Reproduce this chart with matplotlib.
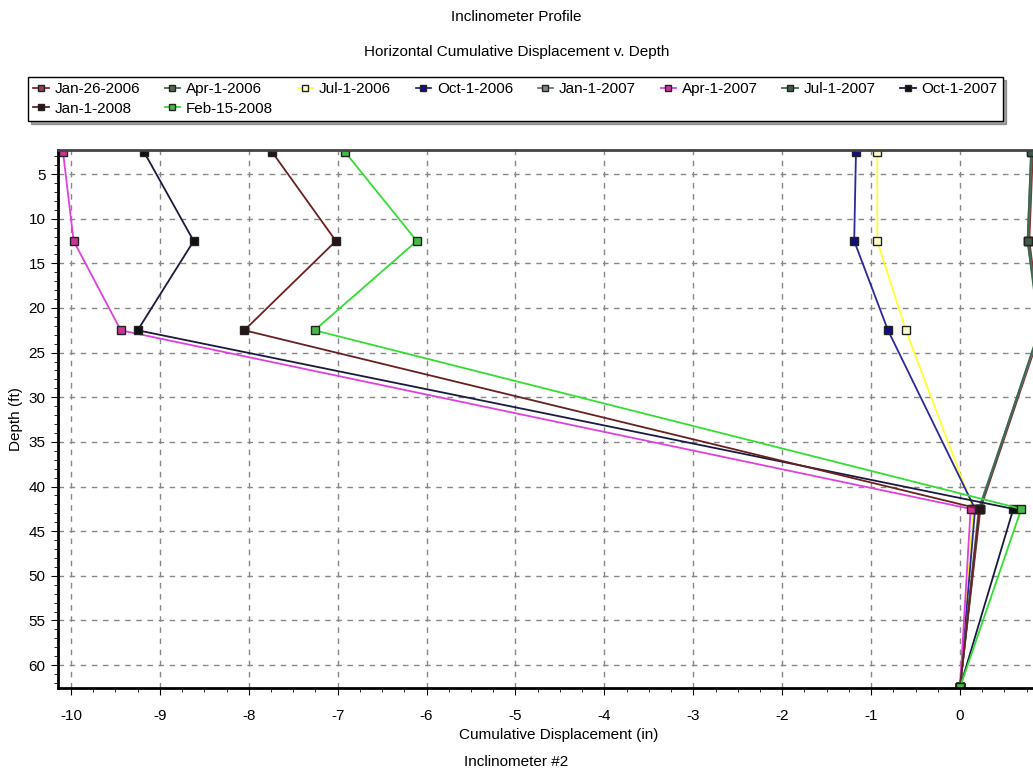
import numpy as np
import matplotlib.pyplot as plt
from matplotlib.ticker import MultipleLocator, FixedLocator

# -------------------
# Data (depth in ft, displacement in inches)
# -------------------
depth = [2.5, 12.5, 22.5, 42.5, 62.5]

labels = ["Jan-26-2006", "Apr-1-2006", "Jul-1-2006", "Oct-1-2006", "Jan-1-2007",
          "Apr-1-2007", "Jul-1-2007", "Oct-1-2007", "Jan-1-2008", "Feb-15-2008"]

jan26_2006 = [0.82, 0.78, 0.91, 0.23, 0.0]
apr1_2006 = [0.81, 0.77, 0.90, 0.22, 0.0]
jul1_2006 = [-0.93, -0.93, -0.61, 0.15, 0.0]
oct1_2006 = [-1.17, -1.19, -0.81, 0.17, 0.0]
jan1_2007 = [0.80, 0.76, 0.90, 0.21, 0.0]
apr1_2007 = [-10.09, -9.97, -9.44, 0.12, 0.0]
jul1_2007 = [0.80, 0.76, 0.89, 0.22, 0.0]
oct1_2007 = [-9.18, -8.62, -9.25, 0.60, 0.0]
jan1_2008 = [-7.74, -7.02, -8.05, 0.22, 0.0]
feb15_2008 = [-6.92, -6.11, -7.26, 0.69, 0.0]

series = [jan26_2006, apr1_2006, jul1_2006, oct1_2006, jan1_2007,
          apr1_2007, jul1_2007, oct1_2007, jan1_2008, feb15_2008]

xticks = list(range(-10, 1))

line_colors = ["#8b2a2a", "#4a6a5a", "#ffff33", "#2a2a9a", "#6a7a7a",
               "#e040e0", "#3a6a50", "#1a1a40", "#6a2020", "#33dd33"]
face_colors = ["#9a3a5a", "#556655", "#ffffcc", "#101080", "#808888",
               "#cc3399", "#405a48", "#101010", "#2a1515", "#44bb44"]

# -------------------
# Plot
# -------------------
plt.rcParams['font.family'] = ['Liberation Sans', 'DejaVu Sans']
plt.rcParams['axes.unicode_minus'] = False

fig = plt.figure(figsize=(10.33, 7.73), dpi=100)
ax = fig.add_axes([58 / 1033, 85 / 773, 1002 / 1033, 538 / 773])

handles = []
for vals, lab, lc, fc in zip(series, labels, line_colors, face_colors):
    h, = ax.plot(vals, depth, color=lc, lw=1.3, marker="s", ms=6,
                 mfc=fc, mec="#222222", mew=1.0, label=lab)
    handles.append(h)

ax.set_xlim(-10.146, 1.125)
ax.set_ylim(62.56, 2.31)
ax.xaxis.set_major_locator(FixedLocator(xticks))
ax.xaxis.set_minor_locator(FixedLocator(np.arange(-10, 1.01, 0.25)))
ax.yaxis.set_major_locator(MultipleLocator(5))
ax.yaxis.set_minor_locator(MultipleLocator(1))
ax.grid(True, which="major", ls=(0, (4, 4)), color="#888888", lw=1.0)

for s in ["left", "bottom"]:
    ax.spines[s].set_linewidth(2)
    ax.spines[s].set_color("black")
ax.spines["top"].set_linewidth(2)
ax.spines["top"].set_color("#444444")
ax.spines["right"].set_visible(False)

ax.tick_params(axis="x", which="major", length=5, labelsize=11, direction="out", pad=10)
ax.tick_params(axis="y", which="major", length=5, labelsize=11, direction="out", pad=4)
ax.tick_params(axis="both", which="minor", length=3, direction="out")

ax.set_ylabel("Depth (ft)", fontsize=11, labelpad=4)
ax.set_xlabel("Cumulative Displacement (in)", fontsize=11, labelpad=4)

fig.text(0.5, 1 - 17 / 773, "Inclinometer Profile", ha="center", va="center", fontsize=11)
fig.text(0.5, 1 - 52 / 773, "Horizontal Cumulative Displacement v. Depth", ha="center",
         va="center", fontsize=11)
fig.text(0.5, 1 - 762 / 773, "Inclinometer #2", ha="center", va="center", fontsize=11)

# legend fills column-wise; reorder so it reads row-wise like the original
order = [0, 8, 1, 9, 2, 3, 4, 5, 6, 7]
leg = fig.legend([handles[i] for i in order], [labels[i] for i in order],
                 loc="upper left", bbox_to_anchor=(28 / 1033, 1 - 77 / 773), ncol=8,
                 fontsize=11, handlelength=1.0, handletextpad=0.4, columnspacing=1.6,
                 borderpad=0.35, labelspacing=0.35, borderaxespad=0, frameon=True,
                 fancybox=False, shadow=True, markerscale=0.8)
leg.get_frame().set_edgecolor("black")
leg.get_frame().set_linewidth(1.0)

plt.savefig("out.png", dpi=100)
